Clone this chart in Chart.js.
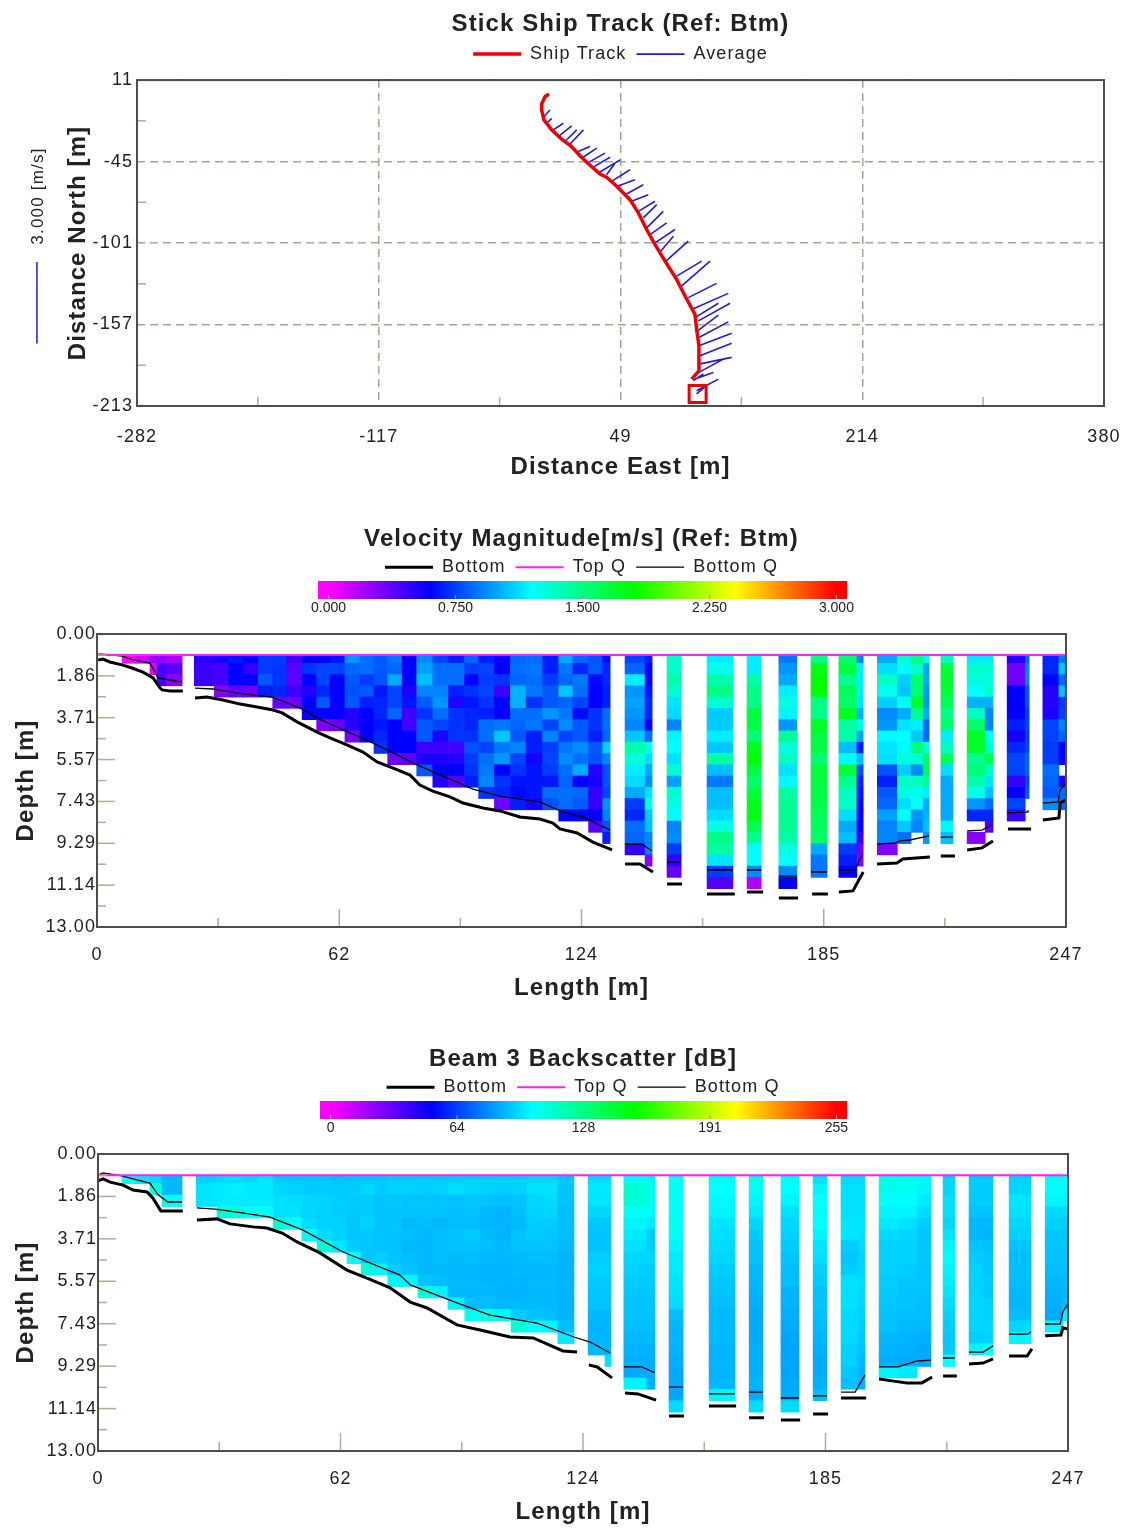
<!DOCTYPE html>
<html>
<head>
<meta charset="utf-8">
<title>ADCP transect</title>
<script src="https://cdn.jsdelivr.net/npm/chart.js@4"></script>
<style>
  html, body { margin: 0; background: #fff; }
  canvas { position: absolute; left: 0; filter: blur(0.5px); }
</style>
</head>
<body>
<canvas id="track-chart" width="1126" height="490" style="top:0"></canvas>
<canvas id="velocity-chart" width="1126" height="500" style="top:510px"></canvas>
<canvas id="backscatter-chart" width="1126" height="501" style="top:1030px"></canvas>
<script>
// Ship track (m)
const trackEast = [0.05, -2.7, -4.8, -5, -3.4, 1.9, 8.7, 14.9, 21.3, 27, 35, 39.5, 46.4, 55.5, 61.2, 66.9, 72.6, 79.5, 87.4, 93.2, 100, 101.1, 102.7, 102.7, 97.7];
const trackNorth = [1.4, -0.4, -5, -9.5, -16.4, -23.2, -29.6, -34.2, -41, -46.5, -53.6, -55.7, -62, -71.2, -80.3, -91.7, -102, -113.4, -126, -137.4, -150, -160.2, -171.6, -188.8, -194.5];
const trackEndEast = [101.8];
const trackEndNorth = [-204.8];

// Average velocity sticks (m)
const stickBaseEast = [-3.8, -1.5, 3, 6.4, 11, 14, 20.1, 22.4, 26.3, 29.3, 33.8, 39.5, 42.9, 46.4, 52.1, 56.6, 61.2, 64.6, 66.9, 69.2, 72.6, 75.6, 80.1, 87.4, 90.9, 95.4, 98.9, 101.1, 102.3, 101.8, 102.7, 102.7, 103.4, 102.7, 102.7, 100, 101.1, 101.1, 98.9];
const stickBaseNorth = [-14.6, -18.7, -23.2, -27.8, -31.2, -33.5, -38.1, -42.7, -46.1, -49.5, -52.9, -54.1, -58.6, -62.1, -67.8, -72.3, -79.2, -83.7, -90.6, -95.2, -100.9, -107.7, -113.4, -123.7, -130.5, -138.5, -146.1, -151.6, -154.5, -161.4, -165.9, -171.6, -178.5, -184.2, -189.9, -194.5, -202.5, -204.7, -195.6];
const stickTipEast = [0.7, 1.9, 9.9, 15.6, 19, 23.6, 28.1, 32.7, 38.4, 41.8, 48.7, 45.2, 55.5, 58.9, 64.6, 68, 72.6, 73.8, 78.3, 80.6, 86.3, 85.2, 95.4, 104.6, 110.3, 114.8, 122.8, 116, 124, 116, 122.8, 125.1, 125.1, 125.1, 119.4, 112.5, 116, 109.1, 105.7];
const stickTipNorth = [-9.5, -15.3, -18.7, -20.5, -23.2, -23.2, -34.7, -35.8, -39.2, -42, -43.8, -46.1, -50.6, -57.5, -60.9, -67.8, -72.3, -74.6, -79.2, -87.2, -91.7, -96.3, -99.7, -113.4, -113.4, -128.7, -135.6, -142.4, -142.4, -150.6, -155.2, -163, -169.8, -179.6, -180.8, -189.9, -194.5, -197.9, -191];

// 3 m/s reference stick, left of the plot
const refStickEast = [-350.5, -350.5];
const refStickNorth = [-114, -170];

const trackEastTicks = [-282, -116.5, 49, 214.5, 380];
const trackEastLabels = ["-282", "-117", "49", "214", "380"];
const trackNorthTicks = [11, -45, -101, -157, -213];
const trackNorthLabels = ["11", "-45", "-101", "-157", "-213"];

// Depth axis shared by both contour panels
const depthTicks = [0, 1.857, 3.714, 5.571, 7.429, 9.286, 11.143, 13];
const depthLabels = ["0.00", "1.86", "3.71", "5.57", "7.43", "9.29", "11.14", "13.00"];
const lengthTicks = [0, 61.75, 123.5, 185.25, 247];
const lengthLabels = ["0", "62", "124", "185", "247"];
const firstBinDepth = 1.05;
const binSize = 0.5;

// Velocity magnitude, one list per ensemble column, top bin first (m/s)
const velStart = [6.4, 9.9, 13.5, 15.3, 17.6, 24.8, 29.9, 33.5, 37.3, 41.1, 44.8, 48.4, 52.3, 56, 59.4, 63.2, 67, 70.6, 74.1, 77.8, 81.5, 85.6, 89.6, 93.7, 97.3, 101.3, 105.4, 109.4, 113.6, 117.7, 121.3, 125.3, 128.9, 134.6, 139.7, 145.3, 155.5, 165.7, 173.8, 182, 189.1, 193.7, 198.9, 204, 207.5, 210.6, 215.1, 221.8, 226.4, 232, 236.6, 241.1, 245.2, 246.8];
const velEnd = [9.9, 13.5, 15.3, 17.6, 21.7, 29.9, 33.5, 37.3, 41.1, 44.8, 48.4, 52.3, 56, 59.4, 63.2, 67, 70.6, 74.1, 77.8, 81.5, 85.6, 89.6, 93.7, 97.3, 101.3, 105.4, 109.4, 113.6, 117.7, 121.3, 125.3, 128.9, 130.8, 139.7, 141.5, 148.9, 162.1, 169.3, 178.4, 186.1, 193.7, 195.3, 204, 207.5, 210.6, 212.1, 218.2, 226.4, 228.4, 236.6, 237.6, 245.2, 246.8, 247];
const velColumns = [
  [0], [0.1], [.25, .08], [.25, .44, .44], [.2, .39, .29],
  [.51, .46, .46],
  [.55, .44, .44, .29],
  [.65, .6, .6, .36],
  [.6, .48, .6, .34],
  [.74, .74, .81, .67],
  [.74, .72, .72, .69, .36],
  [.46, .39, .39, .46, .34],
  [.6, .72, .6, .51, .6, .6],
  [.6, .76, .76, .69, .81, .6, .29],
  [.65, .76, .6, .6, .6, .6, .34],
  [.95, .84, .81, .79, .81, .51, .51, .32],
  [.86, .86, .74, .81, .67, .6, .6, .6],
  [.81, .81, .79, .65, .69, .69, .65, .69, .72],
  [.88, .84, 1, .76, .76, .84, .6, .6, .6, .34],
  [.6, .6, .6, .53, .65, .44, .44, .6, .6, .39],
  [.93, .98, 1.05, .91, .81, .72, .81, .81, .46, .53, .81],
  [.76, .86, .86, .91, .95, .86, .76, .53, .46, .53, .6, .53],
  [.67, .86, .86, .67, .51, .72, .72, .72, .44, .51, .6, .39],
  [.84, .74, .6, .72, .65, .69, .69, .72, .79, .74, .72, .67],
  [.67, .76, .74, .76, .72, .67, .86, .86, .76, .86, .88, .91, .72],
  [.62, .6, .72, .46, .6, .6, .88, 1.07, .88, .95, .6, .72, .69, .34],
  [.84, .86, .84, 1.02, 1.02, .86, .84, .81, .91, .76, .72, .65, .62, .67],
  [.86, .88, .86, .88, .72, .86, .88, .67, .67, .55, .65, .65, .65, .55],
  [.67, .67, .74, .81, .81, .95, .76, .91, .74, .76, .74, .65, .86, .79],
  [1, .88, .84, 1.07, .84, .88, .93, .76, .88, .93, .86, .84, .86, .86, .6],
  [.84, .69, .88, .86, .76, .62, .81, .81, .93, .86, 1, .6, .84, .81, .6],
  [.79, .81, .62, .6, .6, .72, .72, .67, .81, .79, .51, .55, .48, .48, .6, .39],
  [.62, .69, .69, .67, .67, .86, .86, .84, 1.09, .91, .79, .79, .76, .95, .91, .79, .67],
  [.76, .84, 1.16, .95, .98, .95, .91, 1.07, 1.4, 1.28, 1.16, 1.12, 1, .74, .69, .86, .84, .48],
  [.67, .6, .6, .65, .69, .69, .6, .86, 1.26, 1.12, 1, .93, 1.14, 1.28, 1.07, 1.05, .91, .91, .29],
  [1.33, 1.33, 1.4, 1.31, 1.14, 1.12, .91, 1.18, 1.2, 1.13, 1.31, .98, 1.31, 1.26, 1.2, .91, .93, .74, .48, .36],
  [1.16, 1.24, 1.4, 1.49, 1.31, 1.08, 1.08, 1.16, 1.07, 1.4, 1.05, .88, 1.05, 1.05, 1.12, 1.26, 1.49, 1.42, 1.14, .74, .41],
  [1.16, 1.16, 1.4, 1.49, 1.49, 1.64, 1.64, 1.52, 1.73, 1.78, 1.64, 1.54, 1.66, 1.73, 1.75, 1.61, 1.47, 1.2, 1.2, .93, .18],
  [.88, .95, 1, 1.16, 1.26, 1.18, .95, 1.45, 1.28, 1.33, 1.13, 1.19, 1.42, 1.45, 1.45, 1.45, 1.42, 1.26, 1.2, .93, .6],
  [1.49, 1.75, 1.8, 1.8, 1.49, 1.49, 1.71, 1.66, 1.64, 1.54, 1.66, 1.66, 1.64, 1.64, 1.59, 1.59, 1.56, 1, .88, .88],
  [1.54, 1.66, 1.47, 1.59, 1.56, 1.73, 1.42, 1.4, 1.05, 1.19, 1.66, 1.47, 1.35, 1.33, 1.12, 1, 1.05, .74, .67, .6],
  [.91, 1.16, 1.16, 1.16, 1.14, 1.02, 1.26, 1, .67, 1.05, .79, .69, .65, .62, .6, .6, .46, .34, .29],
  [1, 1.12, 1.33, 1.24, 1.09, .93, .95, 1.19, 1.14, 1.13, .79, .67, .81, .84, .98, .91, .91, .29],
  [1.31, 1.19, 1.09, 1.07, 1.24, 1, 1.14, 1.2, 1.19, 1.28, 1.09, 1.33, 1.28, 1.12, 1.2, 1.07, .86],
  [1.49, 1.33, 1.54, 1.52, 1.71, 1.47, 1.16, 1.07, 1.52, 1.31, .93, 1.35, 1.24, 1.2, .95, .91],
  [1.24, .98, 1, .95, .95, 1, .84, .84, 1.28, 1.56, 1.64, 1.45, 1.16, 1, 1.02, 1.05, .95],
  [1.35, 1.66, 1.68, 1.66, 1.59, 1.49, 1.54, 1.16, 1.35, 1.59, 1.12, 1, 1, 1, 1, 1.19, 1.05],
  [1.16, 1.31, 1.28, 1.2, 1.02, 1.35, 1.56, 1.71, 1.71, 1.47, 1.52, 1.4, 1.24, .95, .69, null, .29],
  [1.16, 1.31, 1.28, 1.33, 1.02, .91, .91, 1.2, 1.33, 1.61, 1.35, 1.14, 1.05, .86, .69, .41],
  [.53, .34, .34, .6, .6, .6, .67, .55, .69, .76, .76, .48, .6, .76, .46],
  [.84, .91, .91, .79, .79, .74, .76, .74, .76, .84, .84, .76, .81],
  [.69, .69, .6, .51, .51, .53, .76, .76, .74, .74, .86, .84, .81, .93],
  [.88, 1.07, .86, 1.07, .74, .76, .91, .84, .6, .6, null, .53, .86, .86],
  [.76, .46, .36, .51, .36, .36, .74, .74, .6, .6, null, .46]
];

const velBottomLength = [.3, 1.5, 3.3, 6.6, 8.9, 11.7, 14.3, 16.1, 16.6, 18.6, 21.9, null, 25, 28, 32.1, 36.5, 40.8, 44.9, 47.2, 51, 56.1, 59.4, 63.7, 67.8, 71.4, 75.5, 79.8, 82.3, 85.6, 90, 93.3, 98.4, 102.7, 107.8, 112.9, 116.2, 118, 122.4, 126.4, 131.3, null, 134.6, 138.4, 141.7, null, 145.3, 149.1, null, 155.5, 162.6, null, 165.7, 169.8, null, 173.8, 178.7, null, 182.3, 186.3, null, 189.1, 192.7, 195.3, null, 198.8, 203.9, 205.4, 212.3, null, 215.1, 218.7, null, 221.8, 225.6, 228.4, null, 232.2, 238.1, null, 241.1, 245.2, 245.5, 247];
const velBottomDepth = [1.15, 1.11, 1.24, 1.38, 1.51, 1.69, 1.95, 2.4, 2.48, 2.53, 2.53, null, 2.84, 2.8, 2.93, 3.11, 3.24, 3.37, 3.5, 3.9, 4.35, 4.61, 4.92, 5.24, 5.68, 5.95, 6.26, 6.7, 6.97, 7.23, 7.5, 7.72, 7.85, 8.12, 8.21, 8.39, 8.65, 8.83, 9.23, 9.58, null, 10.2, 10.2, 10.56, null, 11.09, 11.09, null, 11.54, 11.54, null, 11.45, 11.45, null, 11.71, 11.71, null, 11.54, 11.54, null, 11.45, 11.4, 10.56, null, 10.2, 10.16, 9.98, 9.89, null, 9.85, 9.85, null, 9.58, 9.49, 9.18, null, 8.65, 8.65, null, 8.25, 8.16, 7.5, 7.36];
const velBottomQLength = [.3, 1.5, 6.4, 9.2, 13.5, 14.8, 15.5, 21.7, null, 25, 29.6, 35.7, 44.6, 51.7, 56.1, 64.5, 70.4, 81.6, 95.8, 102.7, 112.9, 118.8, 123.9, 130.8, null, 134.6, 138.9, 141.5, null, 145.3, 148.9, null, 155.5, 162.1, null, 165.7, 169.3, null, 173.8, 178.4, null, 182, 186.1, null, 189.1, 193.2, 195, null, 198.8, 203.4, 204.7, 207.2, 210.6, 212.1, null, 215.1, 218.2, null, 221.8, 225.6, 228.4, null, 232, 237.1, 237.3, null, 241.1, 245, 245.5, 247];
const velBottomQDepth = [.89, .89, .98, 1.15, 1.29, 1.69, 1.95, 2.13, null, 2.4, 2.44, 2.62, 2.8, 3.28, 3.73, 4.39, 4.84, 5.81, 6.88, 7.19, 7.45, 7.9, 8.12, 8.7, null, 9.32, 9.32, 9.63, null, 10.12, 10.12, null, 10.47, 10.47, null, 10.47, 10.47, null, 10.74, 10.74, null, 10.56, 10.56, null, 10.47, 10.47, 9.8, null, 9.32, 9.27, 9.18, 9.14, 9.01, 8.96, null, 9.01, 9.01, null, 8.74, 8.7, 8.43, null, 7.94, 7.9, 7.81, null, 7.5, 7.45, 6.92, 6.61];

// Beam 3 backscatter, one list per ensemble column, top bin first (dB)
const bsStart = [6.1, 9.4, 13.2, 16.3, 25, 30.3, 33.6, 37.2, 40.7, 44.6, 48.1, 51.9, 55.8, 59.6, 63.4, 67, 70.5, 73.8, 77.4, 81.5, 85.3, 89.1, 93.4, 97.3, 101.1, 105.2, 109.2, 113.3, 117.1, 124.8, 129.1, 133.9, 139.8, 145.4, 155.6, 165.8, 173.9, 182.1, 189.2, 193.5, 198.9, 203.7, 208.6, 215.2, 221.8, 225.4, 232, 241.2, 245.7];
const bsEnd = [9.4, 13.2, 16.3, 21.4, 30.3, 33.6, 37.2, 40.7, 44.6, 48.1, 51.9, 55.8, 59.6, 63.4, 67, 70.5, 73.8, 77.4, 81.5, 85.3, 89.1, 93.4, 97.3, 101.1, 105.2, 109.2, 113.3, 117.1, 121.2, 129.1, 130.6, 139.8, 141.8, 149, 162.2, 169.3, 178.5, 185.6, 193.5, 195.3, 203.7, 208.6, 212.1, 218.2, 225.4, 227.9, 237.6, 245.7, 247];
const bsColumns = [
  [104], [98], [95, 108], [88, 88, 105],
  [93, 97, 97],
  [95, 98, 98, 110],
  [96, 99, 98, 110],
  [95, 98, 98, 104],
  [97, 98, 98, 104],
  [92, 94, 96, 96, 110],
  [91, 93, 95, 96, 102],
  [91, 92, 94, 94, 95, 101],
  [91, 92, 93, 93, 93, 95, 110],
  [90, 92, 92, 92, 93, 93, 97],
  [91, 92, 91, 91, 91, 91, 92, 104],
  [91, 94, 92, 92, 93, 91, 91, 91, 110],
  [91, 92, 90, 90, 90, 90, 90, 92, 100],
  [92, 93, 91, 90, 90, 90, 90, 90, 92, 100],
  [92, 93, 90, 90, 88, 89, 88, 89, 90, 100],
  [92, 92, 90, 90, 89, 88, 88, 88, 88, 90, 110],
  [92, 93, 90, 90, 88, 89, 89, 89, 88, 89, 100],
  [93, 95, 90, 89, 89, 90, 90, 88, 88, 88, 88, 100],
  [93, 94, 91, 90, 89, 92, 90, 89, 88, 88, 88, 89, 104],
  [93, 93, 90, 88, 87, 88, 89, 88, 87, 87, 88, 89, 106],
  [93, 92, 89, 87, 87, 87, 88, 88, 87, 87, 87, 88, 100],
  [93, 93, 90, 89, 88, 90, 90, 88, 88, 87, 87, 88, 92, 110],
  [94, 96, 94, 93, 92, 92, 90, 89, 88, 88, 88, 88, 90, 102],
  [94, 96, 95, 94, 92, 91, 90, 89, 88, 88, 88, 88, 89, 100],
  [91, 90, 90, 89, 89, 89, 88, 87, 87, 87, 87, 87, 87, 89, 98],
  [95, 98, 97, 94, 91, 90, 90, 92, 93, 92, 91, 90, 88, 87, 87, 88],
  [95, 98, 97, 94, 91, 90, 90, 92, 93, 92, 91, 90, 88, 87, 87, 87, 96],
  [105, 110, 110, 104, 100, 98, 96, 94, 93, 92, 91, 90, 90, 89, 88, 87, 86, 85, 100],
  [100, 105, 105, 101, 98, 92, 92, 94, 92, 92, 91, 90, 90, 89, 88, 87, 86, 86, 86],
  [102, 104, 103, 103, 104, 103, 100, 98, 98, 97, 96, 95, 89, 87, 87, 87, 86, 85, 85, 84, 95],
  [101, 102, 101, 100, 97, 96, 95, 94, 92, 91, 90, 89, 88, 88, 88, 87, 87, 87, 88, 100],
  [106, 104, 100, 98, 94, 92, 90, 90, 88, 88, 87, 86, 85, 85, 85, 86, 86, 86, 87, 85, 95],
  [101, 102, 100, 96, 94, 93, 92, 90, 89, 89, 87, 87, 86, 85, 84, 84, 84, 84, 85, 85, 95],
  [96, 100, 102, 103, 102, 100, 97, 96, 93, 92, 90, 90, 89, 88, 87, 86, 85, 85, 86, 89],
  [95, 96, 96, 96, 97, 97, 92, 91, 92, 96, 96, 96, 95, 95, 95, 93, 93, 91, 90],
  [95, 96, 96, 96, 97, 96, 95, 93, 94, 95, 94, 94, 93, 92, 91, 90, 88, 87, 87],
  [106, 106, 103, 100, 98, 95, 93, 93, 93, 92, 92, 91, 90, 90, 88, 87, 86, 100],
  [105, 105, 102, 100, 96, 94, 93, 93, 92, 91, 90, 90, 89, 88, 87, 86, 85, 98],
  [101, 100, 98, 95, 92, 91, 91, 91, 90, 90, 90, 89, 89, 88, 86, 85, 85],
  [93, 94, 96, 96, 94, 97, 100, 101, 100, 99, 97, 95, 93, 92, 91, 92, 102],
  [92, 92, 92, 90, 88, 88, 91, 92, 93, 93, 93, 94, 94, 94, 92, 100],
  [92, 92, 92, 90, 88, 87, 89, 91, 91, 92, 91, 93, 93, 94, 93, 103],
  [93, 94, 97, 96, 94, 93, 90, 89, 89, 89, 88, 88, 89, 94, 100],
  [103, 103, 100, 95, 93, 91, 90, 90, 89, 88, 87, 86, 85, 100],
  [103, 103, 100, 95, 93, 91, 90, 90, 89, 88, 87, 89, 100]
];

const bsBottomLength = [0, 1.3, 3.1, 6.4, 8.9, 12.5, 14, 16, 21.6, null, 25.2, 30.3, 33.6, 39.5, 43, 46.9, 50.7, 56.5, 63.4, 68.5, 74.4, 79.5, 83.8, 91.4, 97.3, 104.9, 110.8, 118.4, 122, null, 125, 127.1, 130.9, null, 134.2, 137.5, 142.1, null, 145.4, 149.2, null, 155.6, 162.5, null, 165.8, 169.6, null, 173.9, 178.8, null, 182.1, 185.9, null, 189.2, 195.6, null, 198.9, 202.2, 206, 209.8, 212.4, null, 215.2, 218.7, null, 221.8, 225.4, 227.9, null, 232, 236.6, 237.8, null, 241.2, 245.2, 245.7, 247];
const bsBottomDepth = [1.18, 1.09, 1.23, 1.36, 1.58, 1.66, 1.93, 2.49, 2.49, null, 2.89, 2.84, 3.06, 3.19, 3.24, 3.46, 3.85, 4.33, 5.08, 5.43, 5.86, 6.48, 6.74, 7.48, 7.7, 8.01, 8.05, 8.62, 8.67, null, 9.23, 9.32, 9.8, null, 10.46, 10.5, 10.77, null, 11.47, 11.47, null, 11.03, 11.03, null, 11.55, 11.55, null, 11.64, 11.64, null, 11.38, 11.38, null, 10.68, 10.68, null, 9.85, 9.93, 10.02, 10.02, 9.76, null, 9.72, 9.72, null, 9.19, 9.15, 8.97, null, 8.84, 8.84, 8.53, null, 7.96, 7.92, 7.61, 7.66];
const bsBottomQLength = [0, 1.3, 6.1, 8.9, 13.2, 15.3, 17.8, 21.4, null, 25.2, 29.8, 35.4, 43.8, 52.2, 62.4, 76.9, 79.5, 91.4, 99.8, 111.8, 121.2, 125.3, 130.4, null, 133.9, 138.5, 141.8, null, 145.4, 149, null, 155.6, 162.2, null, 165.8, 169.3, null, 173.9, 178.5, null, 182.1, 185.6, null, 189.2, 192.8, 195.3, null, 198.9, 203.7, 208.6, 212.1, null, 215.2, 218.2, null, 221.8, 225.4, 227.9, null, 232, 236.8, 237.6, null, 241.2, 245, 245.7, 247];
const bsBottomQDepth = [.92, .83, .96, 1.09, 1.27, 1.79, 2.1, 2.1, null, 2.36, 2.41, 2.54, 2.76, 3.33, 4.29, 5.3, 5.73, 6.52, 7.05, 7.4, 8.01, 8.23, 8.71, null, 9.32, 9.32, 9.58, null, 10.2, 10.2, null, 10.5, 10.5, null, 10.42, 10.42, null, 10.68, 10.68, null, 10.59, 10.59, null, 10.42, 10.42, 9.67, null, 9.32, 9.32, 9.06, 9.02, null, 8.93, 8.93, null, 8.67, 8.67, 8.4, null, 7.88, 7.88, 7.79, null, 7.44, 7.44, 6.91, 6.56];

const topQDepth = 0.93;
const velBarLabels = ["0.000", "0.750", "1.500", "2.250", "3.000"];
const velBarMax = 3;
const bsBarLabels = ["0", "64", "128", "191", "255"];
const bsBarMax = 255;

const FONT = '"Liberation Sans", Arial, sans-serif';
const TICK_TAN = "#b3ac94";
const FRAME = "#4d4d4d";
const TEXT_SPACING = "1.1px";
const rainbow = [[255, 0, 255], [0, 0, 255], [0, 255, 255], [0, 255, 0], [255, 255, 0], [255, 0, 0]];

// value between 0 and 1 -> colour along the magenta..red scale
function rainbowColor(f) {
    const t = Math.min(Math.max(f, 0), 0.9999) * (rainbow.length - 1);
    const i = Math.floor(t);
    const a = rainbow[i], b = rainbow[i + 1], k = t - i;
    return "rgb(" + [0, 1, 2].map((c) => Math.round(a[c] + (b[c] - a[c]) * k)).join(",") + ")";
}

function cells(starts, ends, columns) {
    const out = [];
    columns.forEach((col, c) => {
        col.forEach((v, r) => {
            if (v === null) return;
            out.push({ x: [starts[c], ends[c]], y: firstBinDepth + r * binSize, v: v });
        });
    });
    return out;
}

function points(xs, ys) {
    return xs.map((x, i) => ({ x: x, y: ys[i] }));
}

function sticks() {
    const out = [];
    stickBaseEast.forEach((e, i) => {
        out.push({ x: e, y: stickBaseNorth[i] });
        out.push({ x: stickTipEast[i], y: stickTipNorth[i] });
        out.push({ x: null, y: null });
    });
    return out;
}

// Frame, inward ticks, colour bar and the reference stick label
const panelChrome = {
    id: "panelChrome",
    beforeInit(chart, args, opts) {
        const fit = chart.legend.fit;
        chart.legend.fit = function () {
            fit.call(this);
            this.height = opts.legendHeight;
        };
    },
    // canvas resets wipe letterSpacing, so set it again before layout and draw
    beforeUpdate(chart) {
        chart.ctx.letterSpacing = TEXT_SPACING;
    },
    beforeDraw(chart) {
        chart.ctx.letterSpacing = TEXT_SPACING;
    },
    afterDatasetsDraw(chart, args, opts) {
        const ctx = chart.ctx;
        const area = chart.chartArea;
        const xs = chart.scales.x, ys = chart.scales.y;
        const xv = opts.xTicks, yv = opts.yTicks;
        ctx.save();
        ctx.strokeStyle = TICK_TAN;
        ctx.lineWidth = 1.5;
        yv.forEach((v, i) => {
            const y = ys.getPixelForValue(v);
            if (opts.majorTicks && i > 0 && i < yv.length - 1) {
                ctx.beginPath(); ctx.moveTo(area.left, y); ctx.lineTo(area.left + 18, y); ctx.stroke();
            }
            if (i < yv.length - 1) {
                const m = ys.getPixelForValue((v + yv[i + 1]) / 2);
                ctx.beginPath(); ctx.moveTo(area.left, m); ctx.lineTo(area.left + 9, m); ctx.stroke();
            }
        });
        xv.forEach((v, i) => {
            const x = xs.getPixelForValue(v);
            if (opts.majorTicks && i > 0 && i < xv.length - 1) {
                ctx.beginPath(); ctx.moveTo(x, area.bottom); ctx.lineTo(x, area.bottom - 18); ctx.stroke();
            }
            if (i < xv.length - 1) {
                const m = xs.getPixelForValue((v + xv[i + 1]) / 2);
                ctx.beginPath(); ctx.moveTo(m, area.bottom); ctx.lineTo(m, area.bottom - 9); ctx.stroke();
            }
        });
        ctx.strokeStyle = FRAME;
        ctx.lineWidth = 2;
        ctx.strokeRect(area.left, area.top, area.right - area.left, area.bottom - area.top);

        if (opts.bar) {
            const b = opts.bar;
            const g = ctx.createLinearGradient(b.left, 0, b.right, 0);
            const lo = 0.02, hi = 0.98;
            rainbow.forEach((c, i) => {
                g.addColorStop(lo + (hi - lo) * i / (rainbow.length - 1), "rgb(" + c.join(",") + ")");
            });
            ctx.fillStyle = g;
            ctx.fillRect(b.left, b.top, b.right - b.left, b.bottom - b.top);
            ctx.font = "14px " + FONT;
            ctx.letterSpacing = "0px";
            ctx.textAlign = "center";
            ctx.textBaseline = "middle";
            b.labels.forEach((t, i) => {
                const x = b.left + (b.right - b.left) * (lo + (hi - lo) * i / (b.labels.length - 1));
                ctx.fillStyle = "#222";
                ctx.fillText(t, x, b.bottom + 9);
                ctx.fillStyle = "#999";
                ctx.fillRect(x - 0.5, b.bottom - 4, 1, 4);
            });
        }
        if (opts.refLabel) {
            ctx.translate(opts.refLabel.x, opts.refLabel.y);
            ctx.rotate(-Math.PI / 2);
            ctx.fillStyle = "#222";
            ctx.font = "17px " + FONT;
            ctx.letterSpacing = "1.2px";
            ctx.textAlign = "center";
            ctx.textBaseline = "middle";
            ctx.fillText(opts.refLabel.text, 0, 0);
        }
        ctx.restore();
    }
};

function axis(min, max, values, labels, titleText, titleBottom, tickPad, extra) {
    return Object.assign({
        type: "linear",
        min: min,
        max: max,
        offset: false,
        afterBuildTicks: (s) => { s.ticks = values.map((v) => ({ value: v })); },
        ticks: {
            autoSkip: false,
            maxRotation: 0,
            padding: tickPad,
            color: "#222",
            font: { family: FONT, size: 18 },
            callback: (v, i) => labels[i]
        },
        border: { display: false },
        grid: { drawOnChartArea: false, drawTicks: false },
        title: {
            display: true,
            text: titleText,
            color: "#222",
            font: { family: FONT, size: 24, weight: "bold", lineHeight: 1.2 },
            padding: { top: 0, bottom: titleBottom }
        }
    }, extra);
}

function titleOpts(text, top, lineHeight) {
    return {
        display: true,
        text: text,
        fullSize: false,
        color: "#222",
        font: { family: FONT, size: 24, weight: "bold", lineHeight: lineHeight },
        padding: { top: top, bottom: 0 }
    };
}

function legendOpts() {
    return {
        display: true,
        fullSize: false,
        labels: {
            color: "#222",
            font: { family: FONT, size: 18 },
            usePointStyle: true,
            pointStyle: "line",
            pointStyleWidth: 48,
            boxHeight: 12,
            padding: 10,
            filter: (item) => item.text !== undefined
        }
    };
}

// Ship track panel
new Chart(document.getElementById("track-chart"), {
    type: "scatter",
    plugins: [panelChrome],
    data: {
        datasets: [
            { label: "Ship Track", data: points(trackEast, trackNorth), showLine: true, borderColor: "#ee0000", backgroundColor: "#ee0000", borderWidth: 3.5, pointRadius: 0, order: 1 },
            { label: "Average", data: sticks(), showLine: true, spanGaps: false, borderColor: "#1c1ce6", backgroundColor: "#1c1ce6", borderWidth: 1.6, pointRadius: 0, order: 2 },
            { data: points(trackEndEast, trackEndNorth), pointStyle: "rect", pointRadius: 12, pointBorderWidth: 3, pointBorderColor: "#ee0000", pointBackgroundColor: "rgba(0,0,0,0)", order: 0 },
            { data: points(refStickEast, refStickNorth), showLine: true, clip: false, borderColor: "#1c1ce6", borderWidth: 1.5, pointRadius: 0, order: 3 }
        ]
    },
    options: {
        responsive: false,
        animation: false,
        layout: { padding: { left: 64, right: 22, top: 0, bottom: 0 } },
        scales: {
            x: axis(-282, 380, trackEastTicks, trackEastLabels, "Distance East [m]", 8, 3, {
                afterFit: (s) => { s.height = 84; },
                // long invisible ticks push the labels down without widening the side padding
                grid: { display: true, drawTicks: true, tickLength: 17, tickColor: "rgba(0,0,0,0)", color: "#a9a38f", lineWidth: 1.5 },
                border: { display: false, dash: [8, 5] },
            }),
            y: axis(-213, 11, trackNorthTicks, trackNorthLabels, "Distance North [m]", 0, 4, {
                afterFit: (s) => { s.width = 73; },
                grid: { display: true, drawTicks: false, color: "#a9a38f", lineWidth: 1.5 },
                border: { display: false, dash: [8, 5] },
            })
        },
        plugins: {
            title: titleOpts("Stick Ship Track (Ref: Btm)", 13, 0.92),
            legend: legendOpts(),
            tooltip: { enabled: false },
            panelChrome: {
                legendHeight: 45,
                xTicks: trackEastTicks,
                yTicks: trackNorthTicks,
                majorTicks: false,
                refLabel: { text: "3.000 [m/s]", x: 38, y: 196 }
            }
        }
    }
});

// Contour panels share everything but their data
function contourPanel(id, cfg) {
    new Chart(document.getElementById(id), {
        type: "scatter",
        plugins: [panelChrome],
        data: {
            datasets: [
                { label: "Bottom", data: points(cfg.bottomLength, cfg.bottomDepth), showLine: true, spanGaps: false, borderColor: "#000", backgroundColor: "#000", borderWidth: 3, pointRadius: 0, order: 1 },
                { label: "Top Q", data: points([0.3, 247], [topQDepth, topQDepth]), showLine: true, borderColor: "#ff1fff", backgroundColor: "#ff1fff", borderWidth: 2, pointRadius: 0, order: 2 },
                { label: "Bottom Q", data: points(cfg.bottomQLength, cfg.bottomQDepth), showLine: true, spanGaps: false, borderColor: "#000", backgroundColor: "#000", borderWidth: 1.3, pointRadius: 0, order: 3 },
                {
                    type: "bar",
                    indexAxis: "y",
                    data: cells(cfg.start, cfg.end, cfg.columns),
                    barPercentage: 1,
                    categoryPercentage: 1,
                    grouped: false,
                    clip: { left: 0, right: 0, bottom: 0, top: -cfg.binClip },
                    backgroundColor: (c) => c.raw ? rainbowColor(c.raw.v / cfg.barMax) : "#fff",
                    order: 4
                }
            ]
        },
        options: {
            responsive: false,
            animation: false,
            layout: { padding: { left: 12, right: cfg.padRight, top: 0, bottom: 0 } },
            scales: {
                x: axis(0, 247, lengthTicks, lengthLabels, "Length [m]", cfg.xTitleBottom, 17, {
                    afterFit: (s) => { s.height = cfg.xHeight; },
                }),
                y: axis(0, 13, depthTicks, depthLabels, "Depth [m]", 0, 1, {
                    reverse: true,
                    afterFit: (s) => { s.width = cfg.yWidth; },
                })
            },
            plugins: {
                title: titleOpts(cfg.title, 20.2, 0.75),
                legend: legendOpts(),
                tooltip: { enabled: false },
                panelChrome: {
                    legendHeight: 85.8,
                    xTicks: lengthTicks,
                    yTicks: depthTicks,
                    majorTicks: true,
                    bar: cfg.bar
                }
            }
        }
    });
}

contourPanel("velocity-chart", {
    title: "Velocity Magnitude[m/s] (Ref: Btm)",
    start: velStart, end: velEnd, columns: velColumns,
    bottomLength: velBottomLength, bottomDepth: velBottomDepth,
    bottomQLength: velBottomQLength, bottomQDepth: velBottomQDepth,
    barMax: velBarMax,
    binClip: 21,
    padRight: 60, xHeight: 83, yWidth: 85, xTitleBottom: 7,
    bar: { left: 318, right: 847, top: 71, bottom: 89, labels: velBarLabels }
});

contourPanel("backscatter-chart", {
    title: "Beam 3 Backscatter [dB]",
    start: bsStart, end: bsEnd, columns: bsColumns,
    bottomLength: bsBottomLength, bottomDepth: bsBottomDepth,
    bottomQLength: bsBottomQLength, bottomQDepth: bsBottomQDepth,
    barMax: bsBarMax,
    binClip: 21,
    padRight: 58, xHeight: 80, yWidth: 86, xTitleBottom: 4,
    bar: { left: 320, right: 847, top: 71, bottom: 89, labels: bsBarLabels }
});
</script>
</body>
</html>
